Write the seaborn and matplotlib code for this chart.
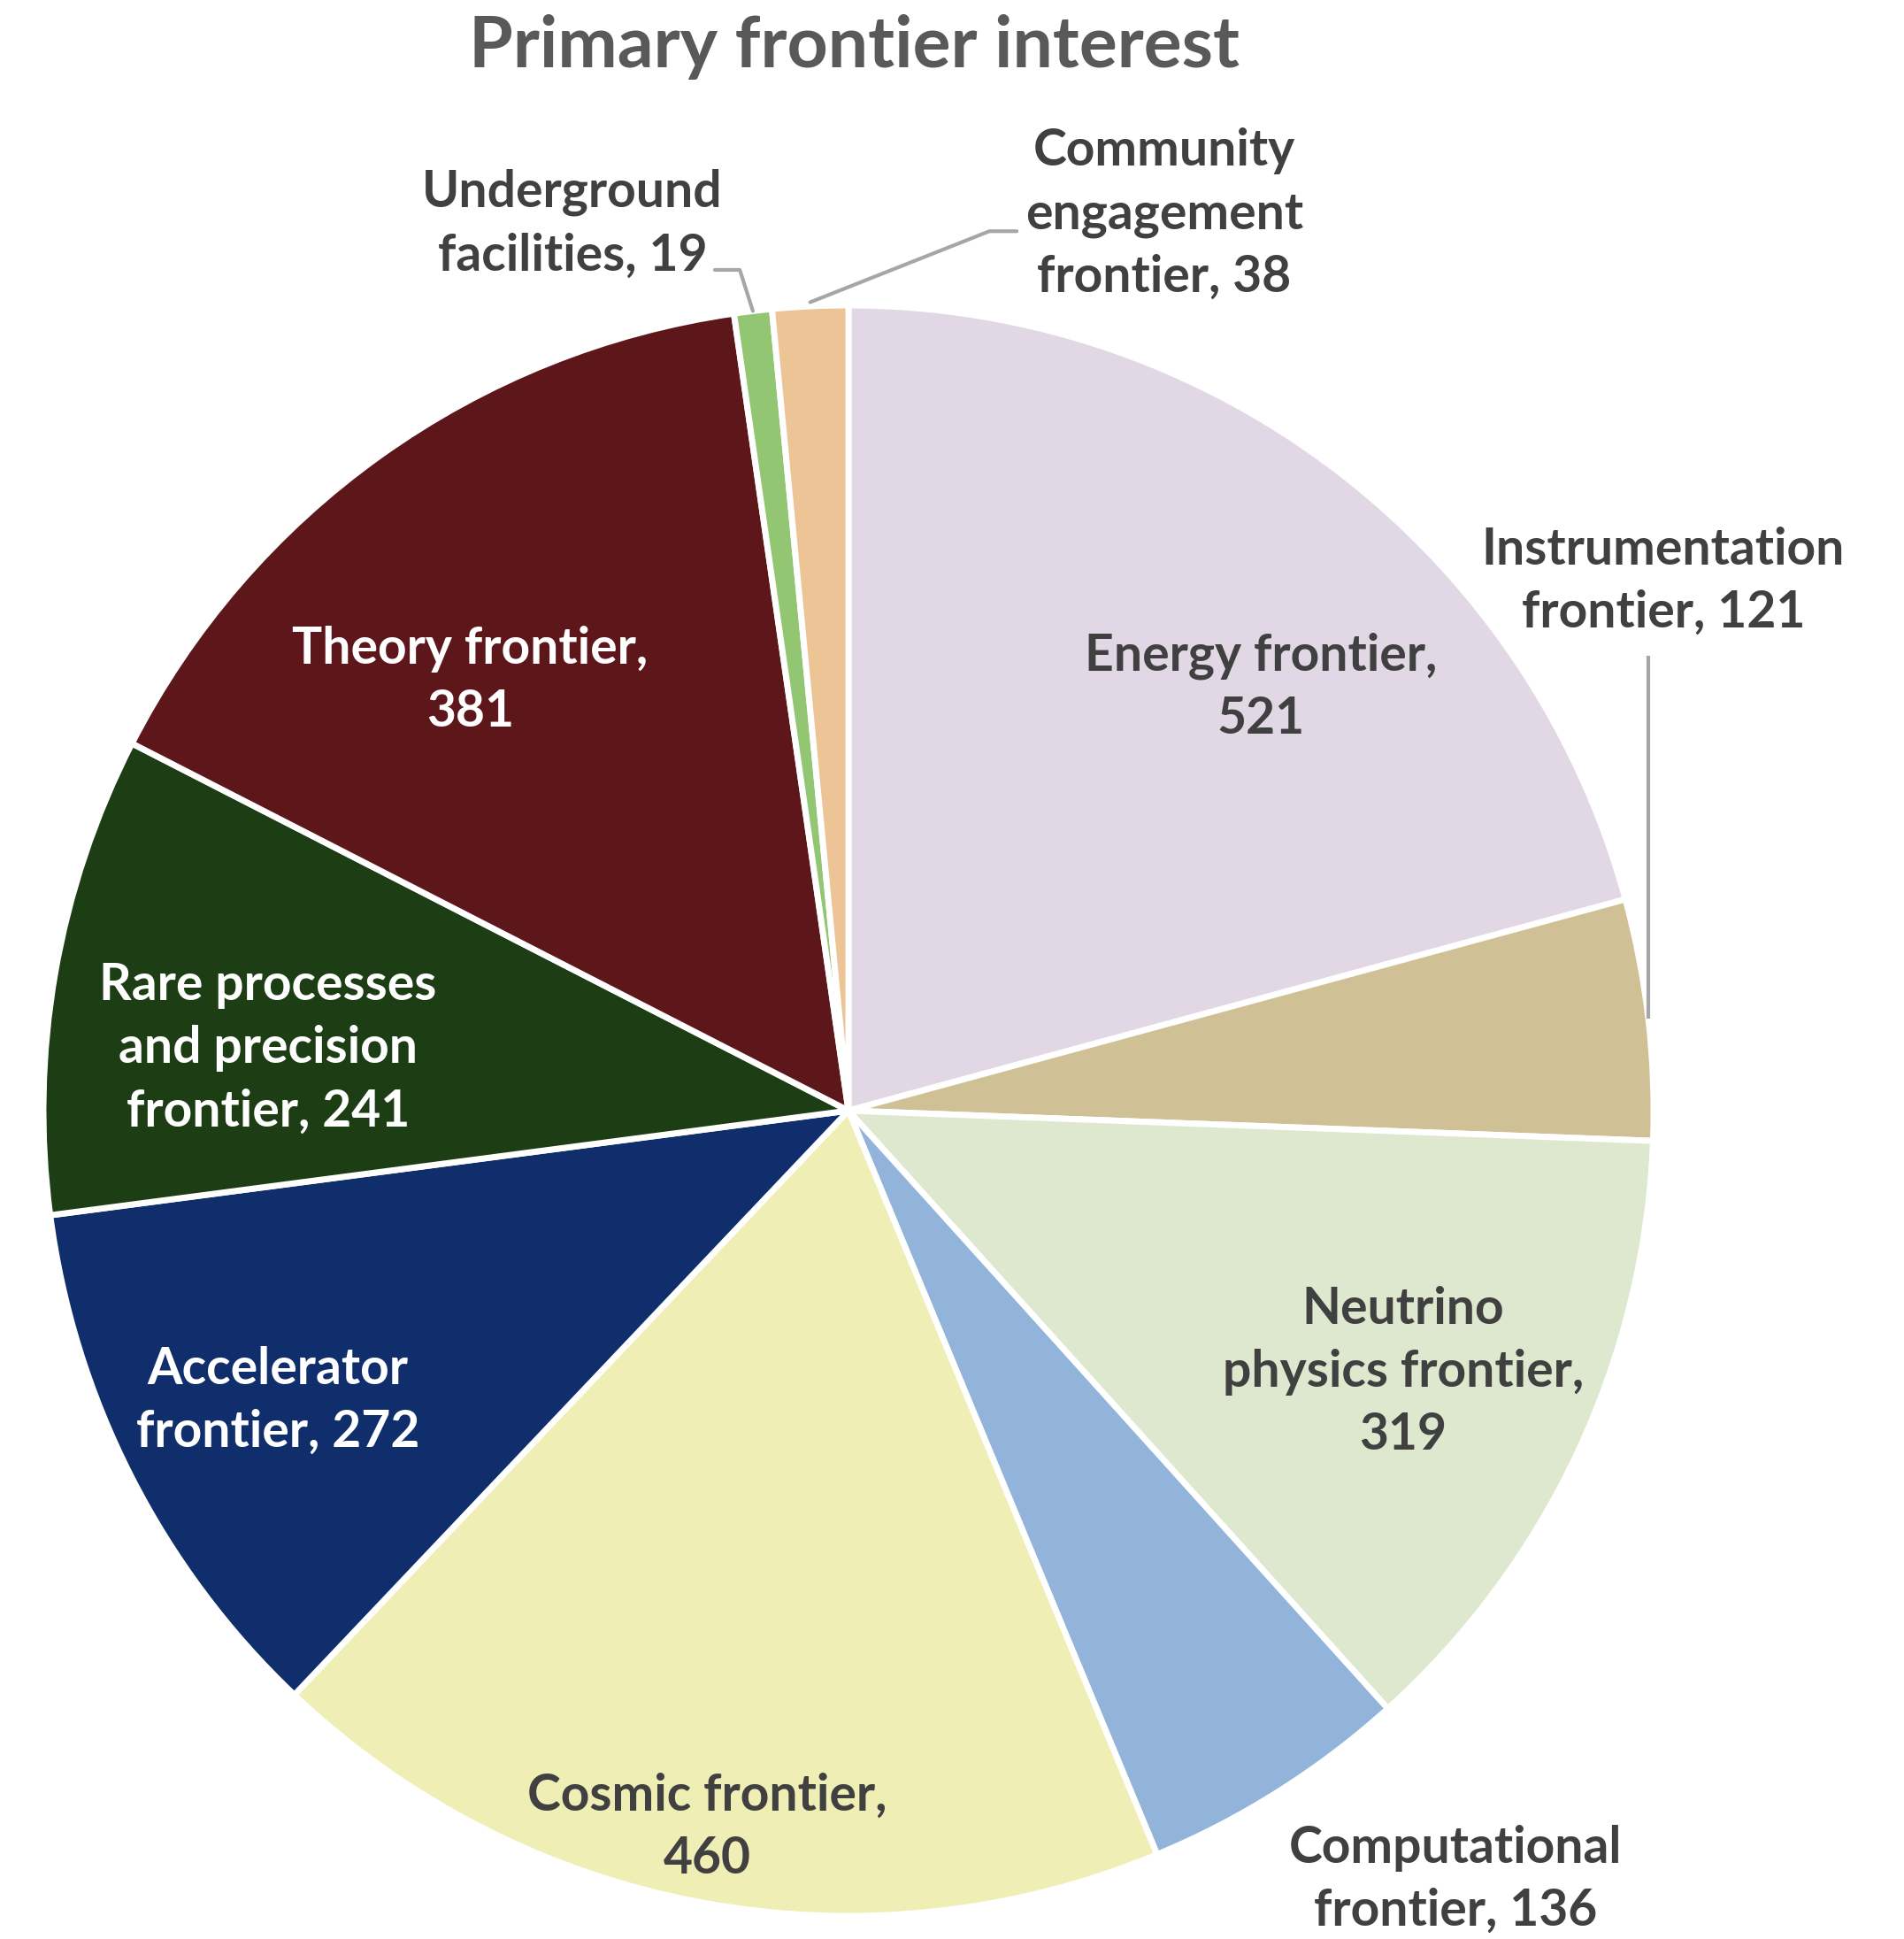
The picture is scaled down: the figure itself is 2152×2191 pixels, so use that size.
import numpy as np
import matplotlib
matplotlib.use("Agg")
import matplotlib.pyplot as plt
import seaborn as sns

# === Data ===
categories = [
    "Energy frontier",
    "Instrumentation frontier",
    "Neutrino physics frontier",
    "Computational frontier",
    "Cosmic frontier",
    "Accelerator frontier",
    "Rare processes and precision frontier",
    "Theory frontier",
    "Underground facilities",
    "Community engagement frontier",
]
counts = [521, 121, 319, 136, 460, 272, 241, 381, 19, 38]
label_texts = [
    "Energy frontier,\n{}",
    "Instrumentation\nfrontier, {}",
    "Neutrino\nphysics frontier,\n{}",
    "Computational\nfrontier, {}",
    "Cosmic frontier,\n{}",
    "Accelerator\nfrontier, {}",
    "Rare processes\nand precision\nfrontier, {}",
    "Theory frontier,\n{}",
    "Underground\nfacilities, {}",
    "Community\nengagement\nfrontier, {}",
]
slice_colors = ["#E2D7E4", "#CFC195", "#DDE8CF", "#93B4DA", "#EFEEB5",
                "#0F2E6B", "#1D3D14", "#5D171B", "#93C672", "#ECC496"]

# === Style ===
sns.set_theme(style="white")
plt.rcParams['font.family'] = ['Lato', 'DejaVu Sans']
plt.rcParams['font.weight'] = 'bold'

# label placement in pie-radius units, text colour per slice
label_pos = [(0.512, 0.526), (1.012, 0.657), (0.689, -0.325), (0.754, -0.955),
             (-0.176, -0.890), (-0.709, -0.360), (-0.721, 0.077), (-0.470, 0.534),
             (-0.343, 1.101), (0.392, 1.113)]
text_colors = ["#404040"] * 5 + ["white"] * 3 + ["#404040"] * 2
LEADER = "#A6A6A6"

W, H, DPI = 2152, 2191, 100
cx, cy, R = 959, 1255, 910  # pixels

fig = plt.figure(figsize=(W / DPI, H / DPI), dpi=DPI)
ax = fig.add_axes([0, 0, 1, 1])

palette = sns.color_palette(slice_colors)
wedges, _ = ax.pie(counts, colors=palette, startangle=90, counterclock=False,
                   radius=1.0, wedgeprops=dict(edgecolor="white", linewidth=5))

ax.set_xlim(-cx / R, (W - cx) / R)
ax.set_ylim(-(H - cy) / R, cy / R)
ax.set_aspect("equal")
ax.axis("off")

for i, (txt, n) in enumerate(zip(label_texts, counts)):
    x, y = label_pos[i]
    ax.text(x, y, txt.format(n), ha="center", va="center", multialignment="center",
            fontsize=41, fontweight="bold", color=text_colors[i], linespacing=1.42)

# leader lines for the small outer-labelled slices
def mid_point(w):
    a = np.deg2rad((w.theta1 + w.theta2) / 2)
    return np.cos(a), np.sin(a)

# Instrumentation
mx, my = mid_point(wedges[1])
ax.plot([mx, mx], [my, 0.565], color=LEADER, lw=3, solid_capstyle="butt")
# Underground facilities
mx, my = mid_point(wedges[8])
ax.plot([-0.166, -0.135, mx], [1.044, 1.044, my], color=LEADER, lw=3)
# Community engagement
mx, my = mid_point(wedges[9])
ax.plot([mx, 0.175, 0.209], [my + 0.005, 1.092, 1.092], color=LEADER, lw=3)

fig.text(965 / W, 1 - 53 / H, "Primary frontier interest", ha="center", va="center",
         fontsize=58, fontweight="bold", color="#595959")

fig.savefig("out.png", dpi=DPI)
